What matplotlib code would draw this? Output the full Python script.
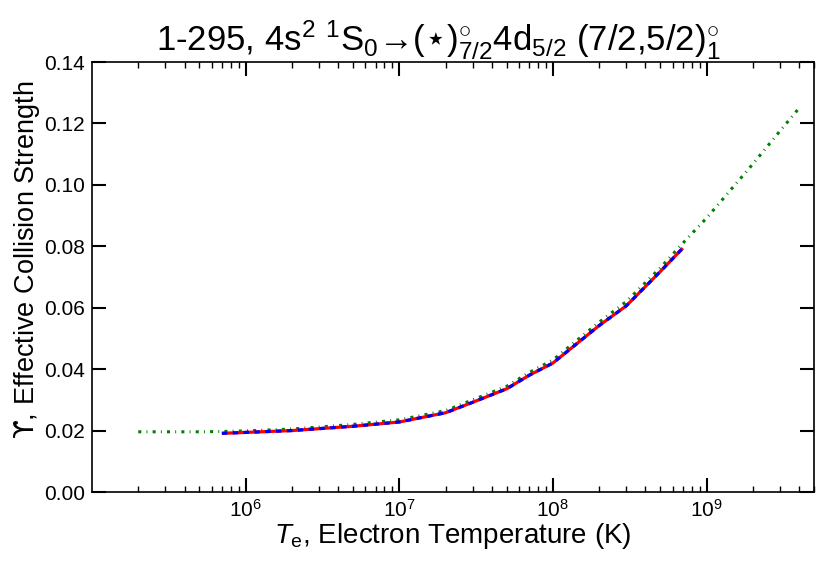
import numpy as np
import matplotlib
matplotlib.use("Agg")
import matplotlib.pyplot as plt

plt.rcParams['font.family'] = ['Liberation Sans', 'DejaVu Sans']
plt.rcParams['mathtext.fontset'] = 'custom'
plt.rcParams['mathtext.rm'] = 'Liberation Sans'
plt.rcParams['mathtext.it'] = 'Liberation Sans:italic'
plt.rcParams['mathtext.bf'] = 'Liberation Sans:bold'
plt.rcParams['mathtext.sf'] = 'DejaVu Sans'

# R-matrix effective collision strengths (red solid / blue dashed)
temp_rm = [7e5, 1e6, 2e6, 5e6, 1e7, 2e7, 3e7, 5e7, 7e7, 1e8, 2e8, 3e8,
           5e8, 7e8]
ups_rm = [0.0191, 0.0194, 0.0200, 0.0214, 0.0228, 0.0258, 0.0292, 0.0336,
          0.0380, 0.0420, 0.0542, 0.0606, 0.0718, 0.0794]

# extrapolated values (green dash-dot)
temp_ex = [2e5, 3e5, 5e5, 7e5, 1e6, 2e6, 5e6, 1e7, 2e7, 3e7, 5e7, 7e7,
           1e8, 2e8, 3e8, 5e8, 7e8, 1e9, 2e9, 3e9, 4e9]
ups_ex = [0.0196, 0.0196, 0.0196, 0.0197, 0.0199, 0.0205, 0.0220, 0.0235,
          0.0265, 0.0300, 0.0344, 0.0389, 0.0430, 0.0553, 0.0620, 0.0730,
          0.0810, 0.0892, 0.1068, 0.1175, 0.1250]

xticks = [1e6, 1e7, 1e8, 1e9]
yticks = [0.00, 0.02, 0.04, 0.06, 0.08, 0.10, 0.12, 0.14]

fig = plt.figure(figsize=(8.3, 5.67), dpi=100)
ax = fig.add_axes([92/830, 1 - 492/567, (814-92)/830, (492-62)/567])

ax.plot(temp_ex, ups_ex, color='green', lw=2.2,
        linestyle=(0, (1.0, 1.7, 0.3, 1.7)))
ax.plot(temp_rm, ups_rm, color='red', lw=2.3, solid_capstyle='butt')
ax.plot(temp_rm, ups_rm, color='blue', lw=2.3, linestyle=(0, (1.7, 1.7)))

ax.set_xscale('log')
ax.set_xlim(1e5, 5e9)
ax.set_ylim(0, 0.14)
ax.set_xticks(xticks)
ax.set_yticks(yticks)
ax.set_yticklabels([f"{v:.2f}" for v in yticks])

ax.tick_params(which='both', direction='in', top=True, right=True,
               labelsize=15)
ax.tick_params(which='major', length=10, width=1.5, pad=5)
ax.tick_params(which='minor', length=4, width=1.0)
ax.tick_params(axis='y', which='minor', left=False, right=False)
for s in ax.spines.values():
    s.set_linewidth(1.2)

ax.set_xlabel(r'$T_\mathrm{e}$, Electron Temperature (K)', fontsize=20,
              labelpad=0)
ax.set_ylabel('$\\mathsf{\u03d2}$, Effective Collision Strength', fontsize=19.5)
ax.yaxis.set_label_coords(-0.069, 0.54)
ax.set_title('1-295, 4s$^2$ $^1$S$_0$\u2192($\\mathsf{\u22c6}$)$^{\\circ}_{7/2}$'
             '4d$_{5/2}$ (7/2,5/2)$^{\\circ}_1$', fontsize=25, pad=8, x=0.48)

fig.savefig('out.png', dpi=100)
